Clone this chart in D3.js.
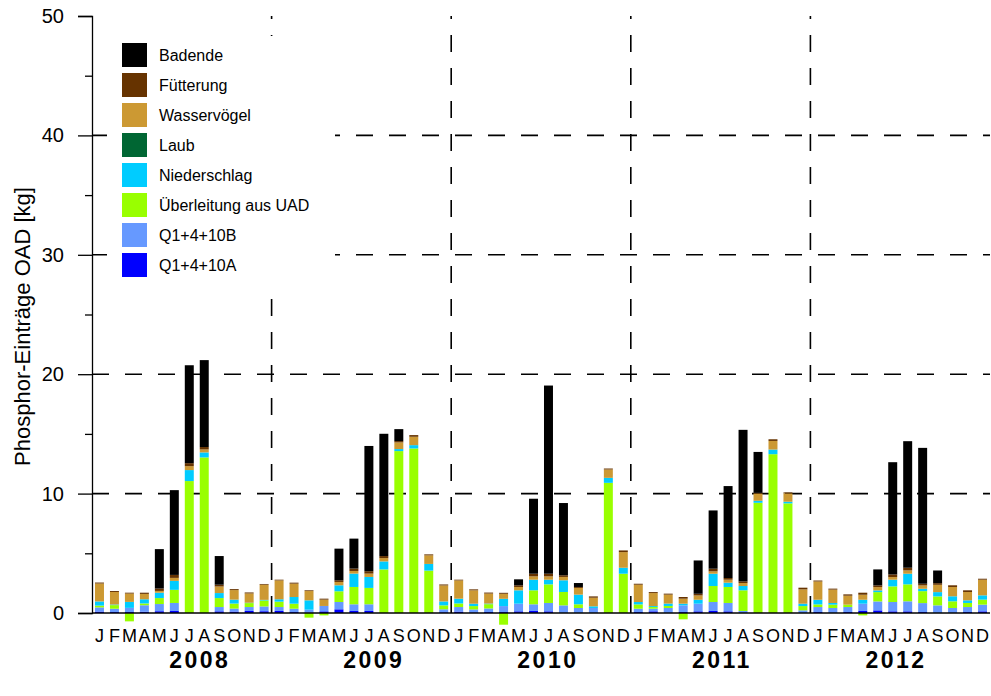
<!DOCTYPE html>
<html>
<head>
<meta charset="utf-8">
<script src="https://cdn.jsdelivr.net/npm/d3@7"></script>
<style>
  html, body { margin: 0; padding: 0; background: #fff; }
  svg { display: block; font-family: "Liberation Sans", Arial, sans-serif; }
</style>
</head>
<body>
<svg id="chart" width="991" height="696"></svg>
<script>
// Monthly phosphorus loads into the OAD basin, 2008–2012 (kg per month)
const years = [2008, 2009, 2010, 2011, 2012];
const monthLetters = ["J","F","M","A","M","J","J","A","S","O","N","D"];
const yTicks = [0, 10, 20, 30, 40, 50];

const q1410A = [
  0.12,0.08,0.08,0.10,0.15,0.17,0,0,0.14,0.12,0.17,0.15,
  0.17,0.08,0.03,0.14,0.31,0.17,0.17,0,0,0,0,0.06,
  0.12,0.05,0.08,0.08,0.14,0.17,0.14,0,0,0,0,0,
  0.08,0.14,0,0.08,0.14,0.17,0.14,0,0,0,0,0,
  0.08,0,0.08,0.17,0.22,0.14,0.14,0.08,0,0,0.08,0.14
];
const q1410B = [
  0.35,0.28,0.35,0.55,0.60,0.67,0,0,0.36,0.25,0.33,0.40,
  0.33,0.28,0.25,0.45,0.61,0.56,0.56,0,0,0,0,0.25,
  0.38,0.25,0.30,0.50,0.64,0.56,0.70,0.64,0.42,0.42,0,0,
  0.28,0.22,0.42,0.56,0.64,0.75,0.70,0.17,0,0,0,0.22,
  0.42,0.42,0.42,0.61,0.75,0.78,0.84,0.75,0.64,0.42,0.42,0.56
];
const ueberleitung = [
  0.15,0.30,-0.70,0.15,0.50,1.10,11.05,13.03,0.75,0.42,0.33,0.50,
  0.45,0.42,-0.39,-0.20,0.90,1.45,1.37,3.65,13.56,13.78,3.55,0.33,
  0.30,0.28,0.36,-0.98,0,1.17,1.56,1.12,0.31,0,10.90,3.29,
  0.36,0.14,0.17,-0.53,0,1.34,1.34,1.73,9.23,13.30,9.18,0.36,
  0.22,0.28,0.20,-0.20,0.78,1.31,1.42,1.00,0.75,0.56,0.34,0.42
];
const niederschlag = [
  0.35,0.05,0.50,0.35,0.45,0.75,0.92,0.42,0.42,0.33,0.03,0.05,
  0.20,0.56,0.78,0,0.50,1.12,0.92,0.67,0.17,0.28,0.56,0.33,
  0.40,0.20,0.05,0.61,1.12,0.89,0.39,0.98,0.81,0.14,0.42,0.50,
  0.20,0.08,0.20,0.14,0.33,1.03,0.36,0.36,0.17,0.39,0.14,0.20,
  0.39,0.14,0,0.33,0.14,0.56,0.89,0.20,0.36,0.42,0.22,0.36
];
const laub = [
  0,0,0,0,0,0,0,0,0,0,0,0,
  0,0,0,0,0,0,0,0,0,0,0,0,
  0,0,0,0,0,0,0,0,0,0,0,0,
  0,0,0,0,0,0,0,0,0,0,0,0,
  0,0,0,0,0,0,0,0,0,0,0,0
];
const wasservoegel = [
  1.50,1.05,0.70,0.45,0.15,0.25,0.33,0.25,0.55,0.80,0.78,1.27,
  1.58,1.12,0.78,0.53,0.28,0.22,0.28,0.28,0.56,0.70,0.72,1.34,
  1.53,1.12,0.84,0.42,0.28,0.28,0.28,0.28,0.56,0.72,0.70,1.31,
  1.45,1.09,0.75,0.42,0.36,0.20,0.25,0.25,0.61,0.72,0.70,1.20,
  1.53,1.12,0.75,0.42,0.28,0.22,0.28,0.28,0.61,0.78,0.70,1.31
];
const fuetterung = [
  0.08,0.08,0.07,0.10,0.20,0.25,0.25,0.20,0.15,0.08,0.08,0.06,
  0.06,0.08,0.06,0.08,0.14,0.20,0.20,0.17,0.11,0.14,0.08,0.08,
  0.06,0.08,0.08,0.08,0.14,0.22,0.22,0.14,0.08,0.11,0.08,0.14,
  0.08,0.08,0.08,0.14,0.14,0.22,0.14,0.14,0.05,0.14,0.08,0.14,
  0.08,0.08,0.11,0.17,0.14,0.22,0.22,0.14,0.14,0.14,0.14,0.08
];
const badende = [
  0,0,0,0,3.30,7.10,8.20,7.28,2.40,0,0,0,
  0,0,0,0,2.65,2.51,10.49,10.24,1.00,0,0,0,
  0,0,0,0,0.50,6.28,15.76,6.05,0.33,0,0,0,
  0,0,0,0,2.79,4.88,7.70,12.69,3.43,0,0,0,
  0,0,0,0,1.34,9.40,10.60,11.38,1.06,0,0,0
];

// Series from the bottom of each stack to the top
const series = [
  { key: "Q1+4+10A", values: q1410A, color: "#0000ff" },
  { key: "Q1+4+10B", values: q1410B, color: "#6699ff" },
  { key: "Überleitung aus UAD", values: ueberleitung, color: "#99ff00" },
  { key: "Niederschlag", values: niederschlag, color: "#00ccff" },
  { key: "Laub", values: laub, color: "#006633" },
  { key: "Wasservögel", values: wasservoegel, color: "#cc9933" },
  { key: "Fütterung", values: fuetterung, color: "#663300" },
  { key: "Badende", values: badende, color: "#000000" }
];

const nMonths = years.length * 12;
const rows = d3.range(nMonths).map(i => {
  const r = { idx: i };
  series.forEach(s => { r[s.key] = s.values[i]; });
  return r;
});

const stack = d3.stack()
  .keys(series.map(s => s.key))
  .offset(d3.stackOffsetDiverging);
const layers = stack(rows);

const svg = d3.select("#chart");
const margin = { left: 92, right: 1, top: 16, bottom: 83 };
const W = 991, H = 696;

const x = d3.scaleBand()
  .domain(d3.range(nMonths))
  .range([margin.left, W - margin.right])
  .paddingInner(0.4)
  .paddingOuter(0.2);

const y = d3.scaleLinear()
  .domain([0, 50])
  .range([H - margin.bottom, margin.top]);

// continuous month position (0 = left edge of January 2008)
const monthPos = d3.scaleLinear()
  .domain([0, nMonths])
  .range([margin.left, W - margin.right]);

// dashed grid: horizontal at the major ticks, vertical at year boundaries
const grid = svg.append("g").attr("class", "grid");
grid.selectAll("line.h")
  .data(yTicks.filter(v => v > 0 && v < 50))
  .join("line")
  .attr("x1", margin.left).attr("x2", W - margin.right)
  .attr("y1", d => y(d)).attr("y2", d => y(d))
  .attr("stroke", "#000").attr("stroke-width", 1.6)
  .attr("stroke-dasharray", "17,16");
grid.selectAll("line.v")
  .data(d3.range(1, years.length))
  .join("line")
  .attr("x1", d => monthPos(d * 12)).attr("x2", d => monthPos(d * 12))
  .attr("y1", y(0)).attr("y2", y(50))
  .attr("stroke", "#000").attr("stroke-width", 1.6)
  .attr("stroke-dasharray", "17,16");

// stacked bars
svg.append("g").selectAll("g")
  .data(layers)
  .join("g")
  .attr("fill", (d, i) => series[i].color)
  .selectAll("rect")
  .data(d => d)
  .join("rect")
  .attr("x", (d, i) => x(i))
  .attr("width", x.bandwidth())
  .attr("y", d => y(Math.max(d[0], d[1])))
  .attr("height", d => Math.abs(y(d[0]) - y(d[1])));

// legend on a white panel
const legendItems = series.slice().reverse();
const lg = svg.append("g").attr("transform", "translate(107,36)");
lg.append("rect")
  .attr("x", 0).attr("y", 0).attr("width", 228).attr("height", 256)
  .attr("fill", "#fff");
const li = lg.selectAll("g.item")
  .data(legendItems)
  .join("g")
  .attr("class", "item")
  .attr("transform", (d, i) => `translate(15,${7 + i * 30})`);
li.append("rect")
  .attr("width", 25).attr("height", 24)
  .attr("fill", d => d.color);
li.append("text")
  .attr("x", 37).attr("y", 12)
  .attr("dy", "0.35em")
  .attr("font-size", 16)
  .attr("fill", "#000")
  .text(d => d.key);

// y axis
const yAxis = d3.axisLeft(y).tickValues(yTicks).tickSize(14).tickPadding(14).tickFormat(d3.format("d"));
const ga = svg.append("g").attr("transform", `translate(${margin.left},0)`).call(yAxis);
ga.select(".domain").attr("stroke", "#000").attr("stroke-width", 1.3);
ga.selectAll(".tick line").attr("stroke", "#000").attr("stroke-width", 1.3);
ga.selectAll(".tick text").attr("font-size", 20).attr("font-family", "Liberation Sans, Arial, sans-serif").attr("fill", "#000");
const minor = d3.axisLeft(y).tickValues([5, 15, 25, 35, 45]).tickSize(7).tickFormat("");
const gm = svg.append("g").attr("transform", `translate(${margin.left},0)`).call(minor);
gm.select(".domain").remove();
gm.selectAll(".tick line").attr("stroke", "#000").attr("stroke-width", 1.3);

// baseline
svg.append("line")
  .attr("x1", margin.left).attr("x2", W - margin.right)
  .attr("y1", y(0)).attr("y2", y(0))
  .attr("stroke", "#000").attr("stroke-width", 1.6);

// month letters
svg.append("g").selectAll("text")
  .data(d3.range(nMonths))
  .join("text")
  .attr("x", i => x(i) + x.bandwidth() / 2)
  .attr("y", y(0) + 29)
  .attr("text-anchor", "middle")
  .attr("font-size", 18)
  .attr("fill", "#000")
  .text(i => monthLetters[i % 12]);

// year labels, set slightly right of each year's centre
svg.append("g").selectAll("text")
  .data(years)
  .join("text")
  .attr("x", (d, i) => monthPos(7.2 + i * 11.63))
  .attr("y", y(0) + 55)
  .attr("text-anchor", "middle")
  .attr("font-size", 23)
  .attr("font-weight", "bold")
  .attr("letter-spacing", 2.5)
  .attr("fill", "#000")
  .text(d => d);

// y axis title
svg.append("text")
  .attr("transform", `translate(30,${(y(0) + y(50)) / 2 + 12}) rotate(-90)`)
  .attr("text-anchor", "middle")
  .attr("font-size", 22)
  .attr("fill", "#000")
  .text("Phosphor-Einträge OAD [kg]");
</script>
</body>
</html>
